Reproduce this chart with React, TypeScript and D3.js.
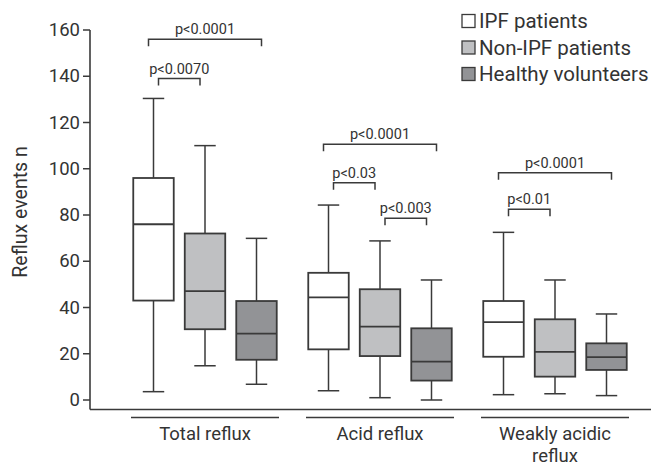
import React from "react";
import * as d3 from "d3";

const categories = ["Total reflux", "Acid reflux", "Weakly acidic reflux"];
const categoryLines = [["Total reflux"], ["Acid reflux"], ["Weakly acidic", "reflux"]];
const seriesNames = ["IPF patients", "Non-IPF patients", "Healthy volunteers"];
const seriesColors = ["#ffffff", "#bfc0c2", "#929396"];

// [min, q1, median, q3, max] per category per series
const ipfStats = [
  [3.6, 43, 76, 96, 130.4],
  [4, 21.9, 44.4, 55, 84.3],
  [2.3, 18.7, 33.7, 42.8, 72.5],
];
const nonIpfStats = [
  [14.8, 30.6, 47.1, 72, 110],
  [1, 19, 31.7, 47.9, 68.8],
  [2.7, 10.1, 20.8, 34.9, 51.9],
];
const healthyStats = [
  [6.8, 17.4, 28.7, 42.8, 69.9],
  [0, 8.4, 16.6, 31, 51.9],
  [1.9, 13, 18.5, 24.5, 37.2],
];
const allStats = [ipfStats, nonIpfStats, healthyStats];

const yTicks = [0, 20, 40, 60, 80, 100, 120, 140, 160];

// significance brackets: category index, from series, to series, level, label
const bracketCat = [0, 0, 1, 1, 1, 2, 2];
const bracketFrom = [0, 0, 0, 0, 1, 0, 0];
const bracketTo = [2, 1, 2, 1, 2, 2, 1];
const bracketLevel = [156, 139, 110.6, 94, 78.6, 98.3, 82.5];
const bracketLabel = ["p<0.0001", "p<0.0070", "p<0.0001", "p<0.03", "p<0.003", "p<0.0001", "p<0.01"];

const W = 657;
const H = 467;
const FONT = "Roboto, 'DejaVu Sans', sans-serif";
const INK = "#3a3a3a";
const TXT = "#333333";

export default function App() {
  const y = d3.scaleLinear().domain([0, 160]).range([400, 30]);
  const xGroup = d3
    .scaleBand<string>()
    .domain(categories)
    .range([131, 629])
    .paddingInner(27 / 175)
    .paddingOuter(0);
  const xInner = d3
    .scaleBand<string>()
    .domain(seriesNames)
    .range([-3.25, xGroup.bandwidth() + 3.25])
    .paddingInner(0.214)
    .paddingOuter(0.107);
  const bw = xInner.bandwidth();
  const cap = bw * 0.53;
  const center = (ci: number, si: number) =>
    (xGroup(categories[ci]) as number) + (xInner(seriesNames[si]) as number) + bw / 2;

  const axisX = 90;
  const axisBottom = 409.5;

  return (
    <svg width={W} height={H} style={{ position: "absolute", left: 0, top: 0, background: "#fff" }}>
      {/* y axis */}
      <line x1={axisX} x2={axisX} y1={y(160)} y2={axisBottom} stroke={INK} strokeWidth={1.6} />
      {yTicks.map((t) => (
        <g key={t}>
          <line x1={axisX - 7} x2={axisX} y1={y(t)} y2={y(t)} stroke={INK} strokeWidth={1.5} />
          <text
            x={axisX - 10}
            y={y(t)}
            textAnchor="end"
            dominantBaseline="central"
            fontFamily={FONT}
            fontSize={18.5}
            fill={TXT}
          >
            {t}
          </text>
        </g>
      ))}
      <text
        transform={`translate(27,${(y(0) + y(160)) / 2 - 3}) rotate(-90)`}
        textAnchor="middle"
        fontFamily={FONT}
        fontSize={19.5}
        fill={TXT}
      >
        Reflux events n
      </text>
      {/* x axis */}
      <line x1={axisX} x2={651} y1={axisBottom} y2={axisBottom} stroke={INK} strokeWidth={1.6} />
      {categories.map((c, ci) => {
        const x0 = xGroup(c) as number;
        const cx = x0 + xGroup.bandwidth() / 2;
        return (
          <g key={c}>
            <line x1={x0} x2={x0 + xGroup.bandwidth()} y1={417.5} y2={417.5} stroke={INK} strokeWidth={1.5} />
            {categoryLines[ci].map((ln, li) => (
              <text
                key={li}
                x={cx}
                y={440 + li * 22}
                textAnchor="middle"
                fontFamily={FONT}
                fontSize={18.5}
                fill={TXT}
              >
                {ln}
              </text>
            ))}
          </g>
        );
      })}
      {/* boxes */}
      {categories.map((c, ci) =>
        seriesNames.map((s, si) => {
          const [mn, q1, md, q3, mx] = allStats[si][ci];
          const cx = center(ci, si);
          return (
            <g key={c + s}>
              <line x1={cx} x2={cx} y1={y(mx)} y2={y(q3)} stroke={INK} strokeWidth={1.5} />
              <line x1={cx} x2={cx} y1={y(q1)} y2={y(mn)} stroke={INK} strokeWidth={1.5} />
              <line x1={cx - cap / 2} x2={cx + cap / 2} y1={y(mx)} y2={y(mx)} stroke={INK} strokeWidth={1.5} />
              <line x1={cx - cap / 2} x2={cx + cap / 2} y1={y(mn)} y2={y(mn)} stroke={INK} strokeWidth={1.5} />
              <rect
                x={cx - bw / 2}
                y={y(q3)}
                width={bw}
                height={y(q1) - y(q3)}
                fill={seriesColors[si]}
                stroke={INK}
                strokeWidth={1.8}
              />
              <line x1={cx - bw / 2} x2={cx + bw / 2} y1={y(md)} y2={y(md)} stroke={INK} strokeWidth={1.8} />
            </g>
          );
        })
      )}
      {/* significance brackets */}
      {bracketLabel.map((lab, i) => {
        const ci = bracketCat[i];
        const a = center(ci, bracketFrom[i]);
        const b = center(ci, bracketTo[i]);
        const long = bracketTo[i] - bracketFrom[i] === 2;
        const xa = long ? a - 5 : a + 5;
        const xb = long ? b + 5 : b - 5;
        const yy = y(bracketLevel[i]);
        return (
          <g key={i}>
            <path
              d={`M${xa},${yy + 7}V${yy}H${xb}V${yy + 7}`}
              fill="none"
              stroke={INK}
              strokeWidth={1.5}
            />
            <text
              x={(xa + xb) / 2}
              y={yy - 5}
              textAnchor="middle"
              fontFamily={FONT}
              fontSize={14.5}
              fill={TXT}
            >
              {lab}
            </text>
          </g>
        );
      })}
      {/* legend */}
      {seriesNames.map((s, si) => (
        <g key={s} transform={`translate(462,${21 + si * 26.5})`}>
          <rect x={0} y={-6.5} width={13} height={13} fill={seriesColors[si]} stroke={INK} strokeWidth={1.3} />
          <text x={17} y={0} dominantBaseline="central" fontFamily={FONT} fontSize={20.5} fill={TXT}>
            {s}
          </text>
        </g>
      ))}
    </svg>
  );
}
